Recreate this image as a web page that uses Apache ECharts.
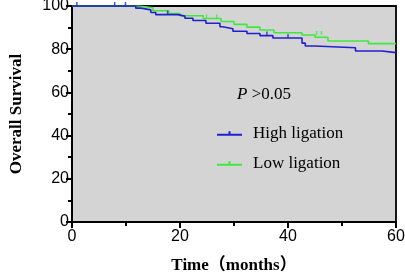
<!DOCTYPE html>
<html><head><meta charset="utf-8">
<script src="https://cdn.jsdelivr.net/npm/echarts@6/dist/echarts.min.js"></script>
<style>html,body{margin:0;padding:0;background:#fff}#c{width:405px;height:276px}</style>
</head><body><div id="c"></div>
<script>
var xTicks = [0, 20, 40, 60];
var yTicks = [0, 20, 40, 60, 80, 100];
var highTime = [0, 11.8, 12.8, 14.6, 15.5, 19.6, 20.9, 22.4, 24.8, 27.4, 27.9, 29.8, 32.4, 34.8, 37.2, 42.6, 43.2, 45.0, 52.5, 57.4, 60];
var highSurv = [100, 99.0, 98.2, 97.0, 96.0, 95.3, 94.3, 93.3, 92.0, 90.4, 89.5, 88.3, 87.3, 86.3, 85.2, 82.8, 81.5, 80.7, 79.2, 78.4, 78.4];
var lowTime = [0, 12.5, 15.0, 17.9, 20.0, 24.3, 27.6, 30.0, 32.4, 34.8, 37.4, 42.6, 45.0, 47.4, 54.9, 60];
var lowSurv = [100, 99.2, 97.8, 96.5, 95.5, 94.2, 92.8, 91.5, 90.2, 88.9, 87.6, 86.6, 85.5, 83.8, 82.6, 82.6];
var highCensorTime = [0.9, 7.9, 9.9, 17.7, 36.1, 40.0];
var highCensorSurv = [100, 100, 100, 96.0, 86.3, 85.2];
var lowCensorTime = [24.9, 26.8, 45.3, 46.2];
var lowCensorSurv = [94.2, 94.2, 86.6, 86.6];

function pairs(a, b) { return a.map(function (v, i) { return [v, b[i]]; }); }

var chart = echarts.init(document.getElementById('c'), null, {renderer: 'canvas'});
var serif = 'Liberation Serif, "Times New Roman", "Noto Sans CJK SC", serif';
var sans = 'Liberation Sans, Arial, sans-serif';
var blue = '#2020d0';
var green = '#3fe83f';
var tickIcon = 'path://M0,4H24V6H0Z M11,1.5H13V6H11Z';
chart.setOption({
  animation: false,
  grid: {left: 72, right: 9, top: 6, bottom: 54, outerBoundsMode: 'none', containLabel: false,
    show: true, backgroundColor: '#d4d4d4', borderColor: '#000', borderWidth: 1.8},
  legend: {
    data: [{name: 'High ligation', icon: tickIcon}, {name: 'Low ligation', icon: tickIcon}],
    orient: 'vertical', left: 212, top: 120, itemGap: 13, itemWidth: 25, itemHeight: 7,
    textStyle: {fontFamily: serif, fontSize: 17, color: '#000', padding: [0, 0, 0, 6]}
  },
  graphic: [{
    type: 'text', left: 237, top: 86,
    style: {text: '{i|P} >0.05', fontFamily: serif, fontSize: 17, fill: '#000',
      rich: {i: {fontFamily: serif, fontSize: 17, fontStyle: 'italic'}}}
  }],
  xAxis: {
    type: 'value', min: xTicks[0], max: xTicks[xTicks.length - 1], interval: 20,
    name: 'Time（months）', nameLocation: 'middle', nameGap: 35,
    nameTextStyle: {fontFamily: serif, fontSize: 17, fontWeight: 'bold', color: '#000'},
    axisLine: {lineStyle: {color: '#000', width: 2}},
    axisTick: {show: true, length: 6, lineStyle: {color: '#000', width: 2}},
    minorTick: {show: true, splitNumber: 2, length: 4, lineStyle: {color: '#000', width: 2}},
    axisLabel: {fontFamily: sans, fontSize: 16, color: '#000', margin: 7},
    splitLine: {show: false}
  },
  yAxis: {
    type: 'value', min: yTicks[0], max: yTicks[yTicks.length - 1], interval: 20,
    name: 'Overall Survival', nameLocation: 'middle', nameGap: 47,
    nameTextStyle: {fontFamily: serif, fontSize: 17, fontWeight: 'bold', color: '#000'},
    axisLine: {show: true, lineStyle: {color: '#000', width: 2}},
    axisTick: {show: true, length: 6, lineStyle: {color: '#000', width: 2}},
    minorTick: {show: true, splitNumber: 2, length: 4, lineStyle: {color: '#000', width: 2}},
    axisLabel: {fontFamily: sans, fontSize: 16, color: '#000', margin: 3},
    splitLine: {show: false}
  },
  series: [
    {name: 'Low ligation', type: 'line', step: 'end', showSymbol: false, symbol: 'none',
      data: pairs(lowTime, lowSurv), lineStyle: {color: green, width: 1.6}, itemStyle: {color: green}, z: 3},
    {name: 'High ligation', type: 'line', step: 'end', showSymbol: false, symbol: 'none',
      data: pairs(highTime, highSurv), lineStyle: {color: blue, width: 1.6}, itemStyle: {color: blue}, z: 4},
    {name: 'lc', type: 'scatter', data: pairs(lowCensorTime, lowCensorSurv), symbol: 'rect', symbolSize: [1.5, 4], symbolOffset: [0, -2],
      itemStyle: {color: green}, z: 5, silent: true},
    {name: 'hc', type: 'scatter', data: pairs(highCensorTime, highCensorSurv), symbol: 'rect', symbolSize: [1.5, 4], symbolOffset: [0, -2],
      itemStyle: {color: blue}, z: 5, silent: true}
  ]
});
</script></body></html>
